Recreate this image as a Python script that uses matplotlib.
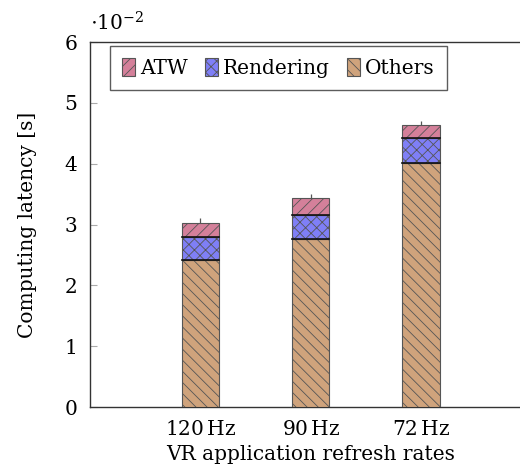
import matplotlib
matplotlib.use('Agg')
import matplotlib.pyplot as plt
import numpy as np

plt.rcParams['font.family'] = ['DejaVu Serif']
plt.rcParams['mathtext.fontset'] = 'dejavuserif'
plt.rcParams['hatch.linewidth'] = 0.6

rates = ['120$\\,$Hz', '90$\\,$Hz', '72$\\,$Hz']
others = [2.42, 2.76, 4.02]
rendering = [0.37, 0.40, 0.40]
atw = [0.23, 0.27, 0.21]
err = [0.08, 0.08, 0.07]

fs = 14.5

fig = plt.figure(figsize=(5.2, 4.72), dpi=100)
ax = fig.add_axes([0.173, 0.1377, (531.5 - 90) / 520, 0.773])

x = np.arange(len(rates))
w = 0.34
edge = '#555555'
b1 = ax.bar(x, others, w, color='#cfa37c', edgecolor=edge, hatch='\\\\\\', linewidth=0.8, zorder=3, label='Others')
b2 = ax.bar(x, rendering, w, bottom=others, color='#7f7ff7', edgecolor=edge, hatch='xxx', linewidth=0.8, zorder=3, label='Rendering')
bot2 = np.array(others) + np.array(rendering)
b3 = ax.bar(x, atw, w, bottom=bot2, color='#d4809a', edgecolor=edge, hatch='///', linewidth=0.8, zorder=3, label='ATW')
tot = bot2 + np.array(atw)
ax.errorbar(x, tot, yerr=err, fmt='none', ecolor='#555555', elinewidth=0.9, capsize=0, zorder=2)
# dark separators between stacks
for xi, a, b in zip(x, others, bot2):
    ax.plot([xi - w / 2, xi + w / 2], [a, a], color='#111111', lw=1.2, zorder=4)
    ax.plot([xi - w / 2, xi + w / 2], [b, b], color='#111111', lw=1.2, zorder=4)

ax.set_xlim(-1, 3)
ax.set_ylim(0, 6)
ax.set_xticks(x)
ax.set_xticklabels(rates, fontsize=fs)
ax.tick_params(axis='x', length=0, pad=9)
ax.set_yticks(range(7))
ax.set_yticklabels([str(i) for i in range(7)], fontsize=fs)
ax.tick_params(axis='y', direction='in', length=5, color='#aaaaaa', pad=9)
for s in ['left', 'bottom', 'top']:
    ax.spines[s].set_color('#333333')
    ax.spines[s].set_linewidth(1.0)
ax.spines['right'].set_visible(False)

ax.set_xlabel('VR application refresh rates', fontsize=fs, labelpad=5)
ax.set_ylabel('Computing latency [s]', fontsize=fs, labelpad=20)
fig.text(0.173, 0.935, r'$\cdot 10^{-2}$', fontsize=fs)

leg = ax.legend(handles=[b3, b2, b1], ncol=3, loc='upper left', bbox_to_anchor=(0.045, 0.989),
                fontsize=fs, frameon=True, fancybox=False, handlelength=0.65, handleheight=1.0,
                handletextpad=0.25, columnspacing=0.85, borderpad=0.6, borderaxespad=0.0)
leg.get_frame().set_edgecolor('#333333')
leg.get_frame().set_linewidth(1.0)

fig.savefig('out.png', dpi=100)
